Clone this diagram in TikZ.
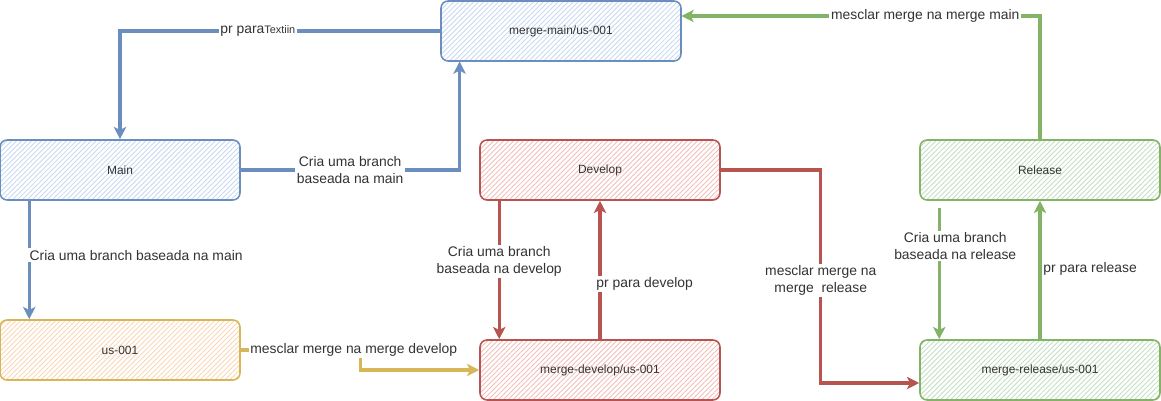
\documentclass[tikz,border=0pt]{standalone}
\usepackage{fontspec}
\setmainfont{Liberation Sans}
\usetikzlibrary{arrows.meta, calc, patterns.meta}

\definecolor{mainline}{HTML}{6C8EBF}
\definecolor{mainfill}{HTML}{C6D8F2}
\definecolor{devline}{HTML}{B85450}
\definecolor{devfill}{HTML}{F2BDBA}
\definecolor{relline}{HTML}{82B366}
\definecolor{relfill}{HTML}{C3DEC1}
\definecolor{usline}{HTML}{D6B656}
\definecolor{usfill}{HTML}{FAD6B4}
\definecolor{txt}{HTML}{333333}

\begin{document}
\begin{tikzpicture}[x=0.02cm, y=-0.02cm, >=Stealth,
    branch/.style={draw, rounded corners=4pt, line width=0.9pt,
        minimum width=4.8cm, minimum height=1.2cm,
        font=\fontsize{6.8}{8}\selectfont, text=txt},
    hatch/.style={pattern={Lines[angle=45, distance=2pt, line width=0.5pt]}, pattern color=#1},
    flow/.style={line width=1.9pt, -{Stealth[length=7pt, width=7pt, inset=1.8pt]}},
    lbl/.style={fill=white, inner sep=1pt, align=center,
        font=\fontsize{7.9}{9.5}\selectfont, text=txt}]

% keep the page the size of the reference
\useasboundingbox (0,0) rectangle (1161,401);

% the branches as boxes
\node[branch, draw=mainline, hatch=mainfill] (mmain) at (561,31) {merge-main/us-001};
\node[branch, draw=mainline, hatch=mainfill] (main) at (120,170) {Main};
\node[branch, draw=usline, hatch=usfill] (us) at (120,350) {us-001};
\node[branch, draw=devline, hatch=devfill] (dev) at (600,170) {Develop};
\node[branch, draw=devline, hatch=devfill] (mdev) at (600,370) {merge-develop/us-001};
\node[branch, draw=relline, hatch=relfill] (rel) at (1040,170) {Release};
\node[branch, draw=relline, hatch=relfill] (mrel) at (1040,370) {merge-release/us-001};

% blue: main side
\draw[flow, mainline] (mmain.west) -| (main.north)
    node[lbl, pos=0.285] {pr para{\fontsize{6.2}{7}\selectfont Textiin}};
\draw[flow, mainline] (main.east) -| ($(mmain.south west)+(19,0)$)
    node[lbl, pos=0.25] {Cria uma branch\\baseada na main};
\draw[flow, mainline] ($(main.south west)+(30,0)$) -- ($(us.north west)+(30,0)$)
    node[lbl, pos=0.46, anchor=west, xshift=-0.06cm] {Cria uma branch baseada na main};

% yellow: us-001 into merge-develop
\draw[flow, usline] (us.east) -- ++(120,0)
    node[lbl, pos=1, xshift=-0.14cm] {mesclar merge na merge develop} |- (mdev.west);

% red: develop side
\draw[flow, devline] ($(dev.south west)+(20,0)$) -- ($(mdev.north west)+(20,0)$)
    node[lbl, pos=0.44] {Cria uma branch\\baseada na develop};
\draw[flow, devline] (mdev.north) -- (dev.south)
    node[lbl, pos=0.4, anchor=west, xshift=-0.14cm] {pr para develop};
\draw[flow, devline] (dev.east) -- ++(100,0) |- ($(mrel.west)+(0,13)$)
    node[lbl, pos=0.26] {mesclar merge na\\merge\ \ release};

% green: release side
\draw[flow, relline] (rel.north) |- ($(mmain.east)+(0,-15)$)
    node[lbl, pos=0.66] {mesclar merge na merge main};
\draw[flow, relline] ($(rel.south west)+(20,7)$) -- ($(mrel.north west)+(20,0)$)
    node[lbl, pos=0.29, xshift=0.32cm] {Cria uma branch\\baseada na release};
\draw[flow, relline] (mrel.north) -- (rel.south)
    node[lbl, pos=0.51, anchor=west] {pr para release};

\end{tikzpicture}
\end{document}
